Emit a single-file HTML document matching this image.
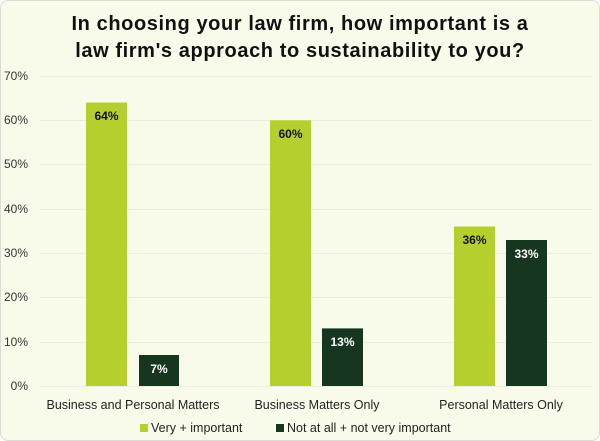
<!DOCTYPE html><html><head><style>
body{margin:0;background:#fff;}
.c{position:absolute;left:0;top:0;width:598px;height:439px;border:1px solid #dcdcd4;border-radius:8px;background:#f9fbea;font-family:"Liberation Sans",sans-serif;overflow:hidden}
</style></head><body><div class="c">
<svg width="600" height="441" style="position:absolute;left:-1px;top:-1px" font-family="Liberation Sans, sans-serif">
<text x="300" y="30" text-anchor="middle" font-size="20" font-weight="bold" fill="#111" letter-spacing="0.6">In choosing your law firm, how important is a</text>
<text x="300" y="57" text-anchor="middle" font-size="20" font-weight="bold" fill="#111" letter-spacing="0.6">law firm's approach to sustainability to you?</text>
<g stroke="#ecefd8" stroke-width="1">
<line x1="40" x2="592" y1="76.5" y2="76.5"/><line x1="40" x2="592" y1="120.5" y2="120.5"/><line x1="40" x2="592" y1="164.5" y2="164.5"/><line x1="40" x2="592" y1="209.5" y2="209.5"/><line x1="40" x2="592" y1="253.5" y2="253.5"/><line x1="40" x2="592" y1="297.5" y2="297.5"/><line x1="40" x2="592" y1="342.5" y2="342.5"/><line x1="40" x2="592" y1="386.5" y2="386.5"/></g>
<g font-size="12" fill="#333" text-anchor="end">
<text x="28" y="80">70%</text><text x="28" y="124">60%</text><text x="28" y="168">50%</text><text x="28" y="213">40%</text><text x="28" y="257">30%</text><text x="28" y="301">20%</text><text x="28" y="346">10%</text><text x="28" y="390">0%</text></g>
<g fill="#b5cf2f"><rect x="86" y="102.5" width="41" height="283.5"/><rect x="270" y="120.3" width="41" height="265.7"/><rect x="454" y="226.5" width="41" height="159.5"/></g>
<g fill="#17361f"><rect x="139" y="355" width="40" height="31"/><rect x="322" y="328.4" width="41" height="57.6"/><rect x="506" y="240" width="41" height="146"/></g>
<g font-size="12" font-weight="bold" text-anchor="middle">
<text x="106.5" y="120" fill="#111">64%</text><text x="290.5" y="138" fill="#111">60%</text><text x="474.5" y="244" fill="#111">36%</text>
<text x="159" y="373" fill="#fff">7%</text><text x="342.5" y="346" fill="#fff">13%</text><text x="526.5" y="258" fill="#fff">33%</text></g>
<g font-size="12.5" fill="#222" text-anchor="middle">
<text x="133" y="409">Business and Personal Matters</text><text x="317" y="409">Business Matters Only</text><text x="501" y="409">Personal Matters Only</text></g>
<rect x="140" y="424" width="8" height="8" fill="#b5cf2f"/><text x="151" y="432" font-size="12.5" fill="#222">Very + important</text>
<rect x="276" y="424" width="8" height="8" fill="#17361f"/><text x="287" y="432" font-size="12.5" fill="#222">Not at all + not very important</text>
</svg></div></body></html>
